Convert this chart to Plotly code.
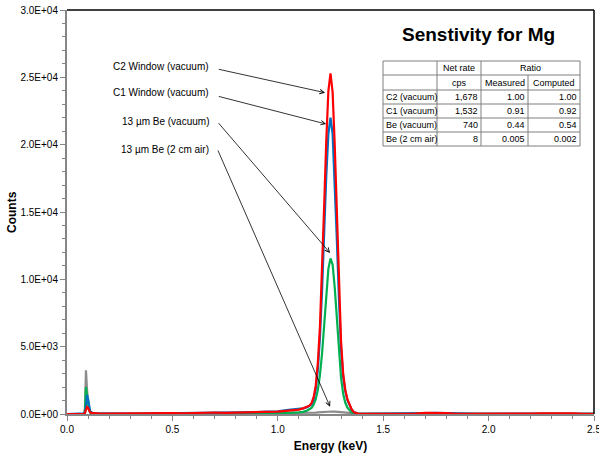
import plotly.graph_objects as go

# ---------------- data ----------------
energy_kev = [0.00, 0.05, 0.08, 0.085, 0.09, 0.095, 0.10, 0.105, 0.11, 0.12, 0.13,
              0.15, 0.20, 0.25, 0.30, 0.35, 0.40, 0.45, 0.50, 0.55, 0.60, 0.65, 0.70, 0.75, 0.80, 0.85, 0.90, 0.95,
              1.00, 1.05, 1.10, 1.12, 1.14, 1.15, 1.16, 1.17, 1.18, 1.19, 1.20, 1.21, 1.22, 1.23, 1.24, 1.25,
              1.26, 1.27, 1.28, 1.29, 1.30, 1.31, 1.32, 1.33, 1.34, 1.35, 1.36, 1.37, 1.38, 1.40,
              1.45, 1.50, 1.55, 1.60, 1.65, 1.70, 1.75, 1.80, 1.85, 1.90, 1.95, 2.00, 2.05, 2.10, 2.15, 2.20,
              2.25, 2.30, 2.35, 2.40, 2.45, 2.50]

counts_be_air = [0, 0, 0, 400, 3250, 1800, 700, 250, 100, 40, 20,
                 15, 10, 10, 10, 15, 10, 15, 20, 15, 20, 20, 25, 20, 20, 25, 30, 30,
                 30, 35, 40, 45, 55, 60, 70, 85, 100, 115, 130, 145, 160, 175, 185, 190,
                 185, 175, 160, 145, 130, 110, 90, 70, 55, 45, 35, 30, 25, 20,
                 15, 15, 15, 15, 20, 30, 35, 25, 15, 15, 15, 15, 15, 15,
                 20, 25, 30, 35, 30, 25, 15, 15]

counts_be_vac = [0, 0, 0, 150, 2000, 1300, 700, 300, 120, 50, 30,
                 20, 15, 20, 20, 30, 30, 60, 40, 30, 50, 50, 50, 40, 50, 60, 70, 60,
                 60, 80, 120, 160, 260, 330, 450, 700, 1100, 1800, 2900, 4500, 6700, 9000, 10800, 11550,
                 11100, 9400, 7000, 4600, 2700, 1500, 850, 480, 260, 130, 60, 30, 15, 10,
                 10, 10, 10, 10, 15, 30, 40, 30, 10, 10, 10, 10, 10, 10,
                 10, 15, 20, 25, 20, 15, 10, 10]

counts_c1 = [0, 0, 0, 50, 600, 1400, 1100, 500, 200, 80, 40,
             30, 20, 30, 25, 40, 35, 50, 60, 50, 70, 80, 90, 80, 90, 110, 140, 180,
             200, 300, 350, 420, 500, 580, 720, 1100, 1850, 3300, 5700, 9200, 13600, 17700, 20800, 22000,
             20800, 17400, 13000, 8600, 4900, 2800, 1700, 1050, 620, 340, 150, 60, 30, 20,
             20, 15, 15, 15, 30, 70, 90, 60, 20, 15, 15, 15, 15, 15,
             20, 30, 40, 50, 45, 30, 20, 15]

counts_c2 = [0, 0, 0, 80, 280, 520, 450, 250, 120, 60, 40,
             40, 30, 45, 35, 50, 40, 60, 70, 55, 80, 90, 110, 85, 100, 120, 140, 160,
             180, 250, 330, 420, 520, 620, 800, 1250, 2100, 3800, 6500, 10500, 15500, 20300, 24000, 25300,
             23900, 20000, 14900, 9800, 5400, 3000, 1800, 1100, 650, 350, 150, 60, 30, 20,
             20, 15, 20, 15, 30, 90, 100, 60, 20, 15, 20, 15, 20, 15,
             20, 30, 50, 60, 50, 40, 20, 20]

series_names = ["13 µm Be (2 cm air)", "13 µm Be (vacuum)", "C1 Window (vacuum)", "C2 Window (vacuum)"]
series_colors = ["#8C8C8C", "#00B050", "#0070C0", "#FF0000"]

y_tick_vals = [0, 5000, 10000, 15000, 20000, 25000, 30000]
y_tick_text = ["0.0E+00", "5.0E+03", "1.0E+04", "1.5E+04", "2.0E+04", "2.5E+04", "3.0E+04"]
x_tick_vals = [0.0, 0.5, 1.0, 1.5, 2.0, 2.5]
x_tick_text = ["0.0", "0.5", "1.0", "1.5", "2.0", "2.5"]

table_rows = ["C2 (vacuum)", "C1 (vacuum)", "Be (vacuum)", "Be (2 cm air)"]
table_net_rate = ["1,678", "1,532", "740", "8"]
table_measured = ["1.00", "0.91", "0.44", "0.005"]
table_computed = ["1.00", "0.92", "0.54", "0.002"]

# ---------------- figure ----------------
W, H = 599, 460
L, R, T, B = 67, 5, 10, 46
PW, PH = W - L - R, H - T - B


def px(x):
    return (x - L) / PW


def py(y):
    return (H - B - y) / PH


FONT = "Liberation Sans"

fig = go.Figure()
for ys, name, col in zip([counts_be_air, counts_be_vac, counts_c1, counts_c2], series_names, series_colors):
    fig.add_trace(go.Scatter(x=energy_kev, y=ys, mode="lines", name=name,
                             line=dict(color=col, width=2.2), showlegend=False))

axis_col = "#868686"
fig.update_layout(
    width=W, height=H,
    margin=dict(l=L, r=R, t=T, b=B, pad=0),
    paper_bgcolor="white", plot_bgcolor="white",
    font=dict(family=FONT, size=10, color="#000000"),
    xaxis=dict(range=[0, 2.5], tickvals=x_tick_vals, ticktext=x_tick_text, automargin=False,
               ticklabeloverflow="allow",
               showgrid=False, zeroline=False, showline=True, linecolor=axis_col, linewidth=2,
               ticks="outside", ticklen=5, tickcolor=axis_col, tickwidth=1,
               minor=dict(dtick=0.1, ticks="outside", ticklen=3, tickcolor=axis_col, showgrid=False),
               title=dict(text="<b>Energy (keV)</b>", font=dict(size=12), standoff=8),
               tickfont=dict(size=10)),
    yaxis=dict(range=[0, 30000], tickvals=y_tick_vals, ticktext=y_tick_text, automargin=False,
               showgrid=False, zeroline=False, showline=True, linecolor=axis_col, linewidth=2,
               ticks="outside", ticklen=5, tickcolor=axis_col, tickwidth=1,
               minor=dict(dtick=1000, ticks="outside", ticklen=3, tickcolor=axis_col, showgrid=False),
               tickfont=dict(size=10)),
)

# top and right frame
fig.add_shape(type="line", xref="paper", yref="paper", x0=0, x1=1, y0=1, y1=1,
              line=dict(color="black", width=1.5))
fig.add_shape(type="line", xref="paper", yref="paper", x0=1, x1=1, y0=0, y1=1,
              line=dict(color="black", width=1.5))

# curve labels with arrows
label_y_px = [66, 93, 121, 149]
arrow_heads = [(1.224, 23860), (1.229, 21530), (1.248, 11960), (1.248, 540)]
arrow_tails = [(0.713, 25620), (0.713, 23610), (0.713, 21710), (0.713, 19680)]
label_texts = ["C2 Window (vacuum)", "C1 Window (vacuum)", "13 µm Be (vacuum)", "13 µm Be (2 cm air)"]
for txt, ypx, (hx, hy), (tx, ty) in zip(label_texts, label_y_px, arrow_heads, arrow_tails):
    fig.add_annotation(x=px(211), y=py(ypx), xref="paper", yref="paper", text=txt,
                       showarrow=False, xanchor="right", yanchor="middle",
                       font=dict(size=10, color="#000000"))
    fig.add_annotation(x=hx, y=hy, xref="x", yref="y", ax=tx, ay=ty, axref="x", ayref="y",
                       text="", showarrow=True, arrowhead=5, arrowsize=1.1, arrowwidth=0.8,
                       arrowcolor="#000000")

# title
fig.add_annotation(x=px(478), y=py(34), xref="paper", yref="paper", text="<b>Senstivity for Mg</b>",
                   showarrow=False, xanchor="center", yanchor="middle", font=dict(size=19, color="#000000"))

# y-axis title placed like the reference
fig.add_annotation(x=px(12), y=py(212), xref="paper", yref="paper", text="<b>Counts</b>", textangle=-90,
                   showarrow=False, xanchor="center", yanchor="middle", font=dict(size=12, color="#000000"))

# table
cx = [383, 437, 481, 528, 580]
ry = [61, 75, 90, 104, 118, 132, 146]
tcol = "#7F7F7F"
fig.add_shape(type="rect", xref="paper", yref="paper", x0=px(cx[0]), x1=px(cx[-1]), y0=py(ry[-1]), y1=py(ry[0]),
              line=dict(color=tcol, width=1), fillcolor="white", layer="above")
for yv in ry[1:-1]:
    fig.add_shape(type="line", xref="paper", yref="paper", x0=px(cx[0]), x1=px(cx[-1]), y0=py(yv), y1=py(yv),
                  line=dict(color=tcol, width=1))
for xv in cx[1:3]:
    fig.add_shape(type="line", xref="paper", yref="paper", x0=px(xv), x1=px(xv), y0=py(ry[-1]), y1=py(ry[0]),
                  line=dict(color=tcol, width=1))
fig.add_shape(type="line", xref="paper", yref="paper", x0=px(cx[3]), x1=px(cx[3]), y0=py(ry[-1]), y1=py(ry[1]),
              line=dict(color=tcol, width=1))

tfont = dict(size=9, color="#000000")


def cell(text, x, y, anchor):
    fig.add_annotation(x=px(x), y=py(y), xref="paper", yref="paper", text=text, showarrow=False,
                       xanchor=anchor, yanchor="middle", font=tfont)


cell("Net rate", (cx[1] + cx[2]) / 2, (ry[0] + ry[1]) / 2, "center")
cell("Ratio", (cx[2] + cx[4]) / 2, (ry[0] + ry[1]) / 2, "center")
cell("cps", (cx[1] + cx[2]) / 2, (ry[1] + ry[2]) / 2, "center")
cell("Measured", (cx[2] + cx[3]) / 2, (ry[1] + ry[2]) / 2, "center")
cell("Computed", (cx[3] + cx[4]) / 2, (ry[1] + ry[2]) / 2, "center")
for i in range(4):
    ym = (ry[i + 2] + ry[i + 3]) / 2
    cell(table_rows[i], cx[0] + 1, ym, "left")
    cell(table_net_rate[i], cx[2] - 1, ym, "right")
    cell(table_measured[i], cx[3] - 1, ym, "right")
    cell(table_computed[i], cx[4] - 1, ym, "right")

fig.write_html("out.html", config={"displayModeBar": False},
               post_script="document.body.style.margin='0';document.body.style.padding='0';"
                           "document.body.style.overflow='hidden';")
